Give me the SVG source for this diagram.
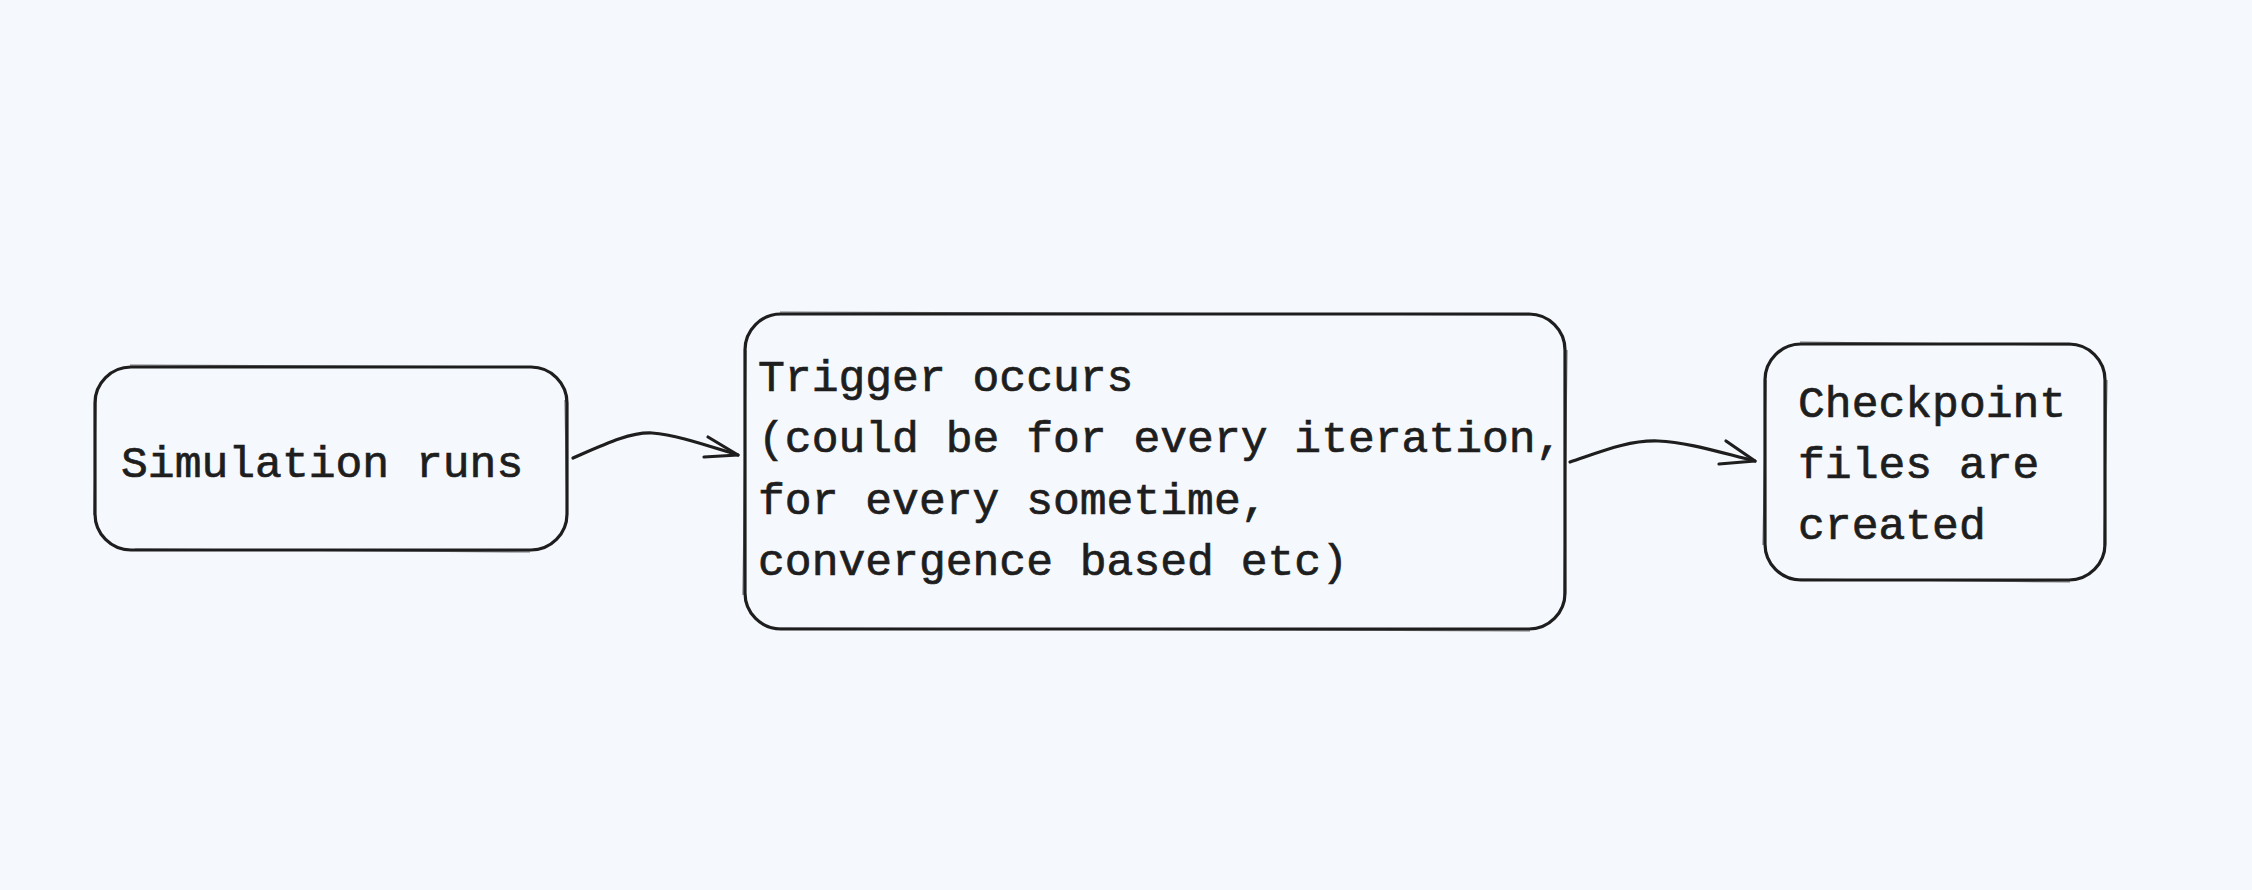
<svg xmlns="http://www.w3.org/2000/svg" width="2252" height="890" viewBox="0 0 2252 890">
<style>
.box{fill:none;stroke:#1e1e1e;stroke-width:3.2;stroke-linejoin:round}
.sk{fill:none;stroke:#1e1e1e;stroke-width:1.2;opacity:0.6}
.lbl{font-family:"Liberation Mono","DejaVu Sans Mono",monospace;font-size:44.7px;fill:#1e1e1e;stroke:#1e1e1e;stroke-width:0.7}
.conn{fill:none;stroke:#1e1e1e;stroke-width:3.2;stroke-linecap:round;stroke-linejoin:round}
</style>
<rect width="2252" height="890" fill="#f5f8fc"/>
<g id="node-simulation">
<rect class="box" x="95" y="367" width="472" height="183" rx="36"/>
<path class="sk" d="M130,365 L532,367 M565,400 L567,518 M530,552 L135,549 M94,515 L96,400"/>
<text class="lbl" x="121" y="477">Simulation runs</text>
</g>
<g id="node-trigger">
<rect class="box" x="745" y="314" width="820" height="315" rx="36"/>
<path class="sk" d="M780,312 L1530,315 M1567,350 L1564,595 M1530,631 L780,628 M743,595 L746,350"/>
<text class="lbl" x="758" y="391">Trigger occurs</text>
<text class="lbl" x="758" y="452">(could be for every iteration,</text>
<text class="lbl" x="758" y="514">for every sometime,</text>
<text class="lbl" x="758" y="575">convergence based etc)</text>
</g>
<g id="node-checkpoint">
<rect class="box" x="1765" y="344" width="340" height="236" rx="36"/>
<path class="sk" d="M1800,342 L2070,345 M2107,380 L2104,545 M2070,582 L1800,579 M1763,545 L1766,380"/>
<text class="lbl" x="1798" y="417">Checkpoint</text>
<text class="lbl" x="1798" y="478">files are</text>
<text class="lbl" x="1798" y="539">created</text>
</g>
<g id="connectors">
<path class="conn" d="M573,458 C605,444 630,432 652,433 C678,435 708,446 738,455"/>
<path class="conn" d="M708,437 L738,455 L704,457"/>
<path class="conn" d="M1570,462 C1600,452 1628,440 1658,441 C1688,442 1722,453 1755,461"/>
<path class="conn" d="M1726,441 L1755,461 L1719,464"/>
</g>
</svg>
